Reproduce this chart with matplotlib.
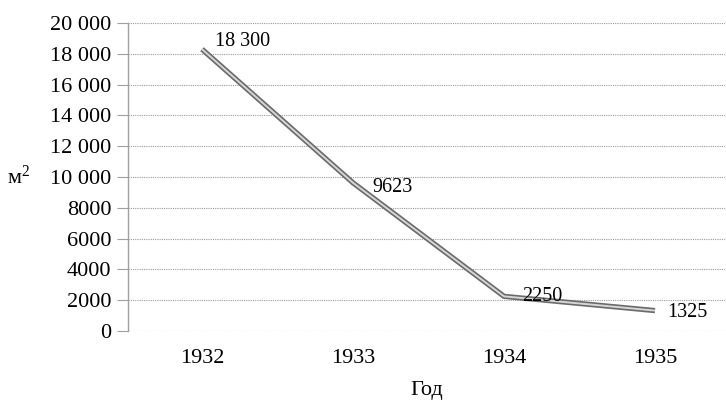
import matplotlib
matplotlib.use("Agg")
import matplotlib.pyplot as plt
from matplotlib.ticker import FixedLocator, FixedFormatter

plt.rcParams["font.family"] = ["Liberation Serif", "DejaVu Serif"]
plt.rcParams["mathtext.fontset"] = "custom"
plt.rcParams["mathtext.rm"] = "Liberation Serif"
plt.rcParams["mathtext.it"] = "Liberation Serif"

years = [1932, 1933, 1934, 1935]
area = [18300, 9623, 2250, 1325]
point_labels = ["18 300", "9623", "2250", "1325"]

y_ticks = [0, 2000, 4000, 6000, 8000, 10000, 12000, 14000, 16000, 18000, 20000]
y_tick_labels = ["0", "2000", "4000", "6000", "8000", "10 000", "12 000",
                 "14 000", "16 000", "18 000", "20 000"]

# label offsets in pixels (x, y) from each point
label_offsets = [(13, 8), (19, -5), (18, 0), (12, -2)]

fig = plt.figure(figsize=(7.26, 4.03), dpi=100)
ax = fig.add_axes([128 / 726, 72 / 403, 598 / 726, 308 / 403])

ax.set_xlim(1931.51, 1935.47)
ax.set_ylim(0, 20000)

ax.yaxis.set_major_locator(FixedLocator(y_ticks))
ax.yaxis.set_major_formatter(FixedFormatter(y_tick_labels))
ax.set_xticks(years)
ax.set_xticklabels([str(y) for y in years])

ax.grid(axis="y", linestyle=(0, (1, 1)), color="#9a9a9a", linewidth=0.8)
ax.set_axisbelow(True)

for side in ("top", "right", "bottom"):
    ax.spines[side].set_visible(False)
ax.spines["left"].set_color("#a0a0a0")
ax.spines["left"].set_linewidth(1.0)

ax.tick_params(axis="y", length=8, width=0.8, color="#a0a0a0",
               labelsize=16, pad=4)
ax.tick_params(axis="x", length=0, labelsize=16, pad=13)

# double-stroke grey line like the scan
ax.plot(years, area, color="#6a6a6a", linewidth=3.8, solid_capstyle="butt",
        solid_joinstyle="round", zorder=3)
ax.plot(years, area, color="#d6d6d6", linewidth=1.4, solid_capstyle="butt",
        solid_joinstyle="round", zorder=4)

for x, y, txt, off in zip(years, area, point_labels, label_offsets):
    ax.annotate(txt, (x, y), xytext=off, textcoords="offset pixels",
                ha="left", va="center", fontsize=14.5, zorder=5)

ax.set_ylabel("м$^{2}$", rotation=0, fontsize=16, ha="center", va="center")
ax.yaxis.set_label_coords((19 - 128) / 598, 0.5)
ax.set_xlabel("Год", fontsize=16, labelpad=9)

fig.savefig("out.png", dpi=100)
plt.close(fig)
